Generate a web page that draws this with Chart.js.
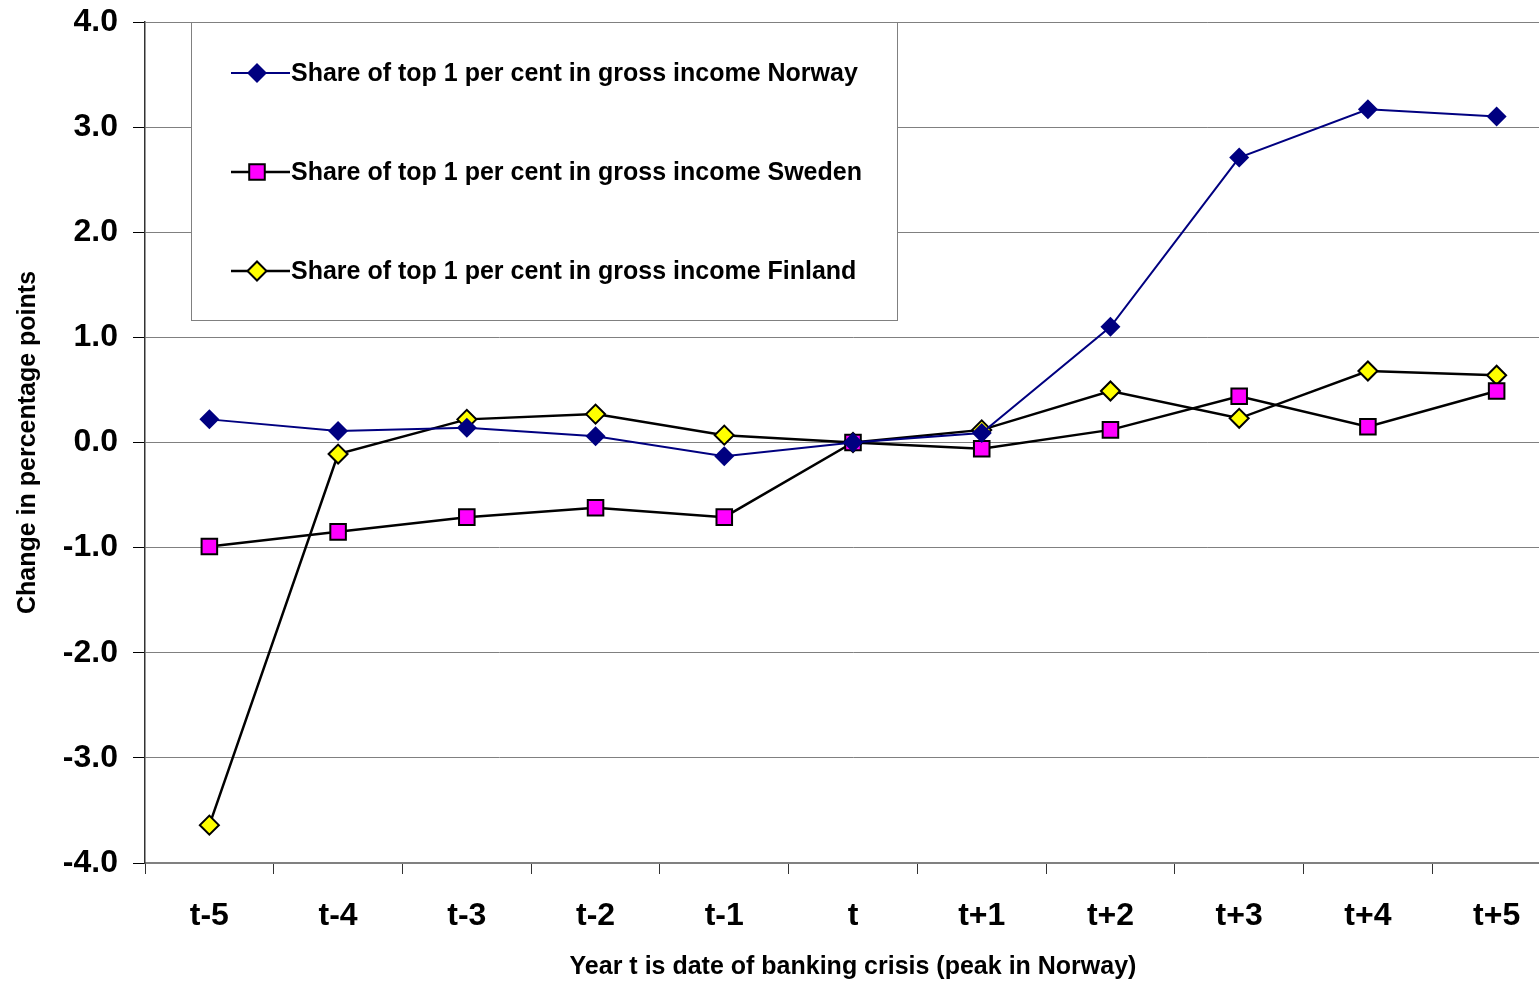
<!DOCTYPE html>
<html>
<head>
<meta charset="utf-8">
<script src="https://cdn.jsdelivr.net/npm/chart.js@4"></script>
<style>
  html, body { margin: 0; padding: 0; background: #fff; overflow: hidden; }
  #wrap { width: 1539px; height: 982px; overflow: hidden; }
</style>
</head>
<body>
<div id="wrap"><canvas id="shareChart" width="1574" height="982"></canvas></div>
<script>
// years relative to the banking crisis
const years = ['t-5', 't-4', 't-3', 't-2', 't-1', 't', 't+1', 't+2', 't+3', 't+4', 't+5'];

// change in top 1% share, percentage points
const norway = [0.22, 0.11, 0.14, 0.06, -0.13, 0.0, 0.09, 1.10, 2.71, 3.17, 3.10];
const sweden = [-0.99, -0.85, -0.71, -0.62, -0.71, 0.0, -0.06, 0.12, 0.44, 0.15, 0.49];
const finland = [-3.64, -0.11, 0.22, 0.27, 0.07, 0.0, 0.12, 0.49, 0.23, 0.68, 0.64];

const yTicks = [-4, -3, -2, -1, 0, 1, 2, 3, 4];

const fontFam = '"Liberation Sans", Arial, sans-serif';

// legend sits inside the plot, boxed
const boxLegend = {
  id: 'boxLegend',
  afterDatasetsDraw(chart) {
    const ctx = chart.ctx;
    ctx.save();
    ctx.fillStyle = '#fff';
    ctx.fillRect(191, 22, 706, 298);
    ctx.strokeStyle = '#808080';
    ctx.lineWidth = 1;
    ctx.strokeRect(191.5, 22.5, 706, 298);
    const rows = [73, 172, 271];
    chart.data.datasets.forEach((ds, i) => {
      const y = rows[i];
      ctx.beginPath();
      ctx.moveTo(231, y);
      ctx.lineTo(290, y);
      ctx.strokeStyle = ds.borderColor;
      ctx.lineWidth = ds.borderWidth;
      ctx.stroke();
      // reuse the point element's own drawing so it matches the plotted markers
      const pt = chart.getDatasetMeta(i).data[0];
      const saved = { x: pt.x, y: pt.y };
      pt.x = 257;
      pt.y = y;
      pt.draw(ctx);
      pt.x = saved.x;
      pt.y = saved.y;
      ctx.fillStyle = '#000';
      ctx.font = 'bold 25px ' + fontFam;
      ctx.textAlign = 'left';
      ctx.textBaseline = 'middle';
      ctx.fillText(ds.label, 291, y + 1);
    });
    ctx.restore();
  }
};

new Chart(document.getElementById('shareChart').getContext('2d'), {
  type: 'line',
  data: {
    labels: years,
    datasets: [{
      label: 'Share of top 1 per cent in gross income Norway',
      data: norway,
      borderColor: '#000080',
      borderWidth: 2,
      pointStyle: 'rectRot',
      pointRadius: 10,
      pointBackgroundColor: '#000080',
      pointBorderColor: '#000080',
      pointBorderWidth: 0,
      tension: 0
    }, {
      label: 'Share of top 1 per cent in gross income Sweden',
      data: sweden,
      borderColor: '#000',
      borderWidth: 2.5,
      pointStyle: 'rect',
      pointRadius: 11,
      pointBackgroundColor: '#ff00ff',
      pointBorderColor: '#000',
      pointBorderWidth: 2,
      tension: 0
    }, {
      label: 'Share of top 1 per cent in gross income Finland',
      data: finland,
      borderColor: '#000',
      borderWidth: 2.5,
      pointStyle: 'rectRot',
      pointRadius: 9.5,
      pointBackgroundColor: '#ffff00',
      pointBorderColor: '#000',
      pointBorderWidth: 2,
      tension: 0
    }]
  },
  options: {
    responsive: false,
    animation: false,
    layout: { padding: { top: 22, left: 0, right: 0, bottom: 0 } },
    plugins: { legend: { display: false }, tooltip: { enabled: false } },
    elements: { point: { hoverRadius: 10 } },
    scales: {
      x: {
        offset: true,
        grid: { offset: true, drawOnChartArea: false, drawTicks: true, tickLength: 11, tickColor: '#333' },
        border: { color: '#808080', width: 2 },
        ticks: { color: '#000', font: { family: fontFam, size: 32, weight: 'bold' }, padding: 23, maxRotation: 0 },
        title: {
          display: true,
          text: 'Year t is date of banking crisis (peak in Norway)',
          color: '#000',
          font: { family: fontFam, size: 25, weight: 'bold' },
          padding: { top: 0, bottom: 0 }
        },
        afterFit(scale) { scale.height = 119; scale.paddingLeft = 0; scale.paddingRight = 0; }
      },
      y: {
        min: -4,
        max: 4,
        afterBuildTicks(scale) { scale.ticks = yTicks.map(v => ({ value: v })); },
        grid: { color: '#808080', lineWidth: 1, tickLength: 12, tickColor: '#000' },
        border: { color: '#333', width: 1.5 },
        ticks: {
          color: '#000',
          font: { family: fontFam, size: 32, weight: 'bold' },
          padding: 15,
          callback: v => Number(v).toFixed(1)
        },
        title: {
          display: true,
          text: 'Change in percentage points',
          color: '#000',
          font: { family: fontFam, size: 25, weight: 'bold' },
          padding: { top: 13, bottom: 0 }
        },
        afterFit(scale) { scale.width = 145; scale.paddingTop = 0; scale.paddingBottom = 0; }
      }
    }
  },
  plugins: [boxLegend]
});
</script>
</body>
</html>
